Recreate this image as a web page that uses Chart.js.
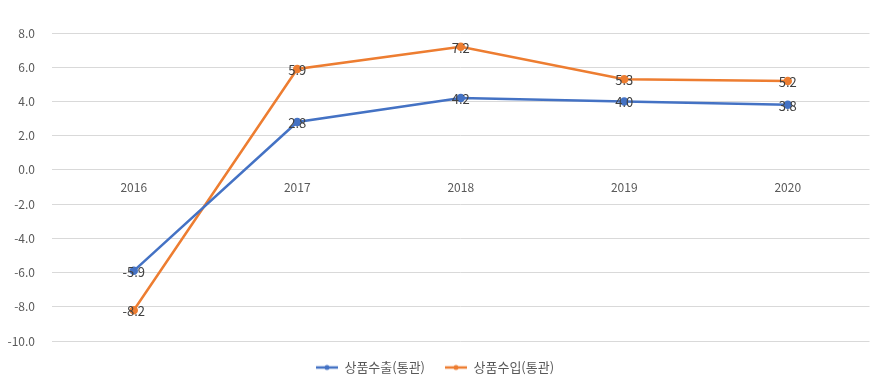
<!DOCTYPE html>
<html>
<head>
<meta charset="utf-8">
<script src="https://cdn.jsdelivr.net/npm/chart.js@4"></script>
<style>
html,body{margin:0;padding:0;background:#fff;}
#wrap{width:875px;height:386px;position:relative;}
</style>
</head>
<body>
<div id="wrap"><canvas id="c" width="875" height="386"></canvas></div>
<script>
const categories = ['2016', '2017', '2018', '2019', '2020'];
const exportsSeries = [-5.9, 2.8, 4.2, 4.0, 3.8];
const importsSeries = [-8.2, 5.9, 7.2, 5.3, 5.2];
const seriesNames = ['상품수출(통관)', '상품수입(통관)'];
const yTicks = { min: -10, max: 8, step: 2 };

const FONT = '"Noto Sans CJK KR", "Malgun Gothic", sans-serif';

function legendIcon(color) {
  const cv = document.createElement('canvas');
  cv.width = 22; cv.height = 8;
  const g = cv.getContext('2d');
  g.strokeStyle = color; g.lineWidth = 2.5;
  g.beginPath(); g.moveTo(0, 4); g.lineTo(22, 4); g.stroke();
  g.fillStyle = color;
  g.beginPath(); g.arc(11, 4, 2.5, 0, Math.PI * 2); g.fill();
  return cv;
}

const dataLabels = {
  id: 'dataLabels',
  afterDatasetsDraw(chart) {
    const ctx = chart.ctx;
    ctx.save();
    ctx.font = '13px ' + FONT;
    ctx.fillStyle = '#404040';
    ctx.textAlign = 'center';
    ctx.textBaseline = 'middle';
    chart.data.datasets.forEach((ds, i) => {
      const meta = chart.getDatasetMeta(i);
      meta.data.forEach((pt, j) => {
        ctx.fillText(ds.data[j].toFixed(1), pt.x, pt.y + 1);
      });
    });
    ctx.restore();
  }
};

new Chart(document.getElementById('c'), {
  type: 'line',
  data: {
    labels: categories,
    datasets: [
      {
        label: seriesNames[0],
        data: exportsSeries,
        borderColor: '#4472C4',
        backgroundColor: '#4472C4',
        borderWidth: 2.5,
        pointRadius: 3,
        pointHoverRadius: 3,
        pointStyle: 'circle',
        tension: 0
      },
      {
        label: seriesNames[1],
        data: importsSeries,
        borderColor: '#ED7D31',
        backgroundColor: '#ED7D31',
        borderWidth: 2.5,
        pointRadius: 3,
        pointHoverRadius: 3,
        pointStyle: 'circle',
        tension: 0
      }
    ]
  },
  options: {
    responsive: false,
    animation: false,
    devicePixelRatio: 1,
    layout: { padding: { top: 33, right: 5, left: 0, bottom: 2 } },
    plugins: {
      tooltip: { enabled: false },
      legend: {
        position: 'bottom',
        labels: {
          usePointStyle: true,
          pointStyleWidth: 22,
          font: { family: FONT, size: 13 },
          color: '#595959',
          padding: 20,
          generateLabels(chart) {
            return chart.data.datasets.map((ds, i) => ({
              text: ds.label,
              fillStyle: ds.borderColor,
              strokeStyle: ds.borderColor,
              pointStyle: legendIcon(ds.borderColor),
              lineWidth: 0,
              datasetIndex: i,
              fontColor: '#595959'
            }));
          }
        }
      }
    },
    scales: {
      x: {
        position: { y: 0 },
        offset: true,
        grid: { display: false, drawTicks: false },
        border: { display: false },
        ticks: { color: '#595959', font: { family: FONT, size: 12 }, padding: 10 }
      },
      y: {
        min: yTicks.min,
        max: yTicks.max,
        grid: { color: '#d9d9d9', drawTicks: false },
        border: { display: false },
        ticks: {
          stepSize: yTicks.step,
          color: '#595959',
          font: { family: FONT, size: 12 },
          padding: 17,
          callback: v => Number(v).toFixed(1)
        },
        afterFit(scale) { scale.width = 52; }
      }
    }
  },
  plugins: [dataLabels]
});
</script>
</body>
</html>
